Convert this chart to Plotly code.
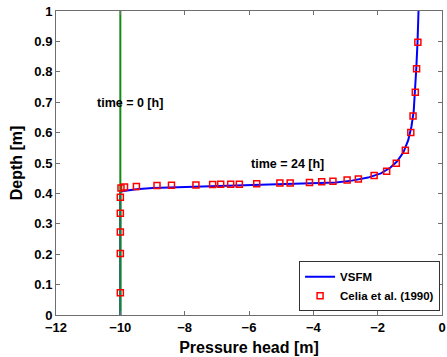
import plotly.graph_objects as go

# VSFM simulated profile at t = 24 h
vsfm_head = [-10, -10, -9.9, -9.5, -9.0, -8.0, -7.0, -6.0, -5.0, -4.0, -3.3, -2.8, -2.3,
             -1.9, -1.6, -1.4, -1.2, -1.05, -0.95, -0.88, -0.84, -0.80, -0.76, -0.73]
vsfm_depth = [0.0, 0.405, 0.408, 0.414, 0.418, 0.421, 0.423, 0.426, 0.429, 0.432, 0.436,
              0.442, 0.452, 0.466, 0.485, 0.505, 0.535, 0.575, 0.62, 0.67, 0.73, 0.81, 0.90, 1.0]

# Celia et al. (1990) reference solution
celia_head = [-10, -10, -10, -10, -10, -9.98, -9.87, -9.5, -8.86, -8.41, -7.65, -7.13, -6.88,
              -6.57, -6.3, -5.76, -5.04, -4.72, -4.12, -3.74, -3.39, -2.95, -2.6, -2.11,
              -1.72, -1.42, -1.14, -0.97, -0.9, -0.83, -0.79, -0.75]
celia_depth = [0.073, 0.202, 0.273, 0.335, 0.387, 0.418, 0.421, 0.423, 0.426, 0.427, 0.428,
               0.429, 0.43, 0.43, 0.43, 0.432, 0.434, 0.434, 0.436, 0.438, 0.44, 0.444,
               0.447, 0.459, 0.473, 0.499, 0.542, 0.6, 0.655, 0.733, 0.81, 0.897]

# Initial condition (t = 0 h)
init_head = [-10, -10]
init_depth = [0, 1]

x_ticks = [-12, -10, -8, -6, -4, -2, 0]
y_ticks = [0, 0.1, 0.2, 0.3, 0.4, 0.5, 0.6, 0.7, 0.8, 0.9, 1]

FONT = "Liberation Sans, Arial, sans-serif"

fig = go.Figure()
fig.add_trace(go.Scatter(x=vsfm_head, y=vsfm_depth, mode="lines", name="VSFM",
                         line=dict(color="#0000ff", width=2)))
fig.add_trace(go.Scatter(x=init_head, y=init_depth, mode="lines", showlegend=False,
                         line=dict(color="#138a13", width=2)))
fig.add_trace(go.Scatter(x=celia_head, y=celia_depth, mode="markers", name="Celia et al. (1990)",
                         marker=dict(symbol="square-open", size=6, color="#ff0000",
                                     line=dict(width=1.5, color="#ff0000"))))

fig.add_annotation(x=-10.78, y=0.697, text="time = 0 [h]", showarrow=False, xanchor="left",
                   font=dict(family=FONT, size=12.5, color="black", weight="bold"))
fig.add_annotation(x=-6.0, y=0.497, text="time = 24 [h]", showarrow=False, xanchor="left",
                   font=dict(family=FONT, size=12.5, color="black", weight="bold"))

axis_common = dict(showgrid=False, zeroline=False, showline=True, linecolor="#6e6e6e",
                   linewidth=1, mirror="ticks", ticks="inside", ticklen=4, tickcolor="#6e6e6e",
                   automargin=False,
                   tickfont=dict(family=FONT, size=13, color="black", weight="bold"))

fig.update_xaxes(range=[-12, 0], tickvals=x_ticks,
                 title=dict(text="Pressure head [m]", standoff=8,
                            font=dict(family=FONT, size=16, color="black", weight="bold")),
                 **axis_common)
fig.update_yaxes(range=[0, 1], tickvals=y_ticks,
                 title=dict(text="Depth [m]", standoff=7,
                            font=dict(family=FONT, size=16, color="black", weight="bold")),
                 **axis_common)

fig.update_layout(
    width=447, height=357,
    margin=dict(l=56, r=5, t=11, b=42),
    plot_bgcolor="white", paper_bgcolor="white",
    legend=dict(x=0.995, y=0.012, xanchor="right", yanchor="bottom",
                bgcolor="white", bordercolor="#333333", borderwidth=1,
                font=dict(family=FONT, size=11.5, color="black", weight="bold"),
                tracegroupgap=0, itemwidth=30),
)

fig.write_html("out.html", config={"displayModeBar": False},
               post_script="document.body.style.margin='0';document.body.style.overflow='hidden';")
